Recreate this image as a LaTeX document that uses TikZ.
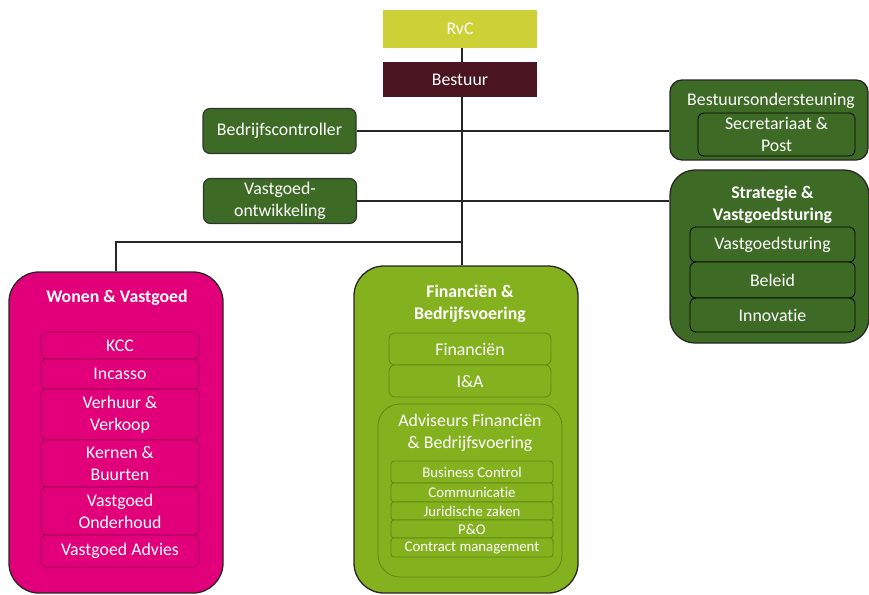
\documentclass[tikz,border=0pt]{standalone}
\usepackage{fontspec}
\setmainfont{Carlito}[Ligatures={NoCommon,NoDiscretionary,NoContextual}, Contextuals=NoAlternate]
\usetikzlibrary{backgrounds}

\definecolor{rvcgreen}{RGB}{204,209,55}
\definecolor{bestuurred}{RGB}{74,21,32}
\definecolor{darkgreen}{RGB}{61,107,37}
\definecolor{pinkred}{RGB}{226,0,122}
\definecolor{pinkline}{RGB}{150,0,80}
\definecolor{lime}{RGB}{132,177,30}
\definecolor{limeline}{RGB}{95,135,20}

\tikzstyle{txt} = [text=white, font=\fontsize{17.8}{22}\selectfont, align=center, inner sep=0pt]
\tikzstyle{head} = [txt, font=\fontsize{17.8}{22}\selectfont\bfseries]
\tikzstyle{board} = [txt, rectangle, minimum width=154pt]
\tikzstyle{staff} = [txt, rectangle, rounded corners=7pt, fill=darkgreen, draw=black!80, line width=1.2pt, minimum width=153pt, minimum height=45pt]
\tikzstyle{dept} = [rectangle, draw=black!85, line width=1.3pt]
\tikzstyle{unit} = [txt, rectangle, rounded corners=6pt, line width=0.8pt]
\tikzstyle{woonunit} = [unit, fill=pinkred, draw=pinkline, minimum width=158pt]
\tikzstyle{finunit} = [unit, fill=lime, draw=limeline, minimum width=162pt]
\tikzstyle{advunit} = [finunit, font=\fontsize{14.8}{18}\selectfont, rounded corners=3pt]
\tikzstyle{stratunit} = [unit, fill=darkgreen, draw=black, minimum width=165pt]
\tikzstyle{link} = [draw=black!85, line width=1.2pt]

\begin{document}
\begin{tikzpicture}[x=1pt, y=-1pt]
\useasboundingbox (0,0) rectangle (869,594);

% top
\node[board, fill=rvcgreen, minimum height=38pt] (rvc) at (460,29) {RvC};
\node[board, fill=bestuurred, minimum height=35pt] (bestuur) at (460,79.5) {Bestuur};

% staff
\node[staff] (bc) at (279.5,131) {Bedrijfscontroller};
\node[staff] (vo) at (280,201) {Vastgoed-\\ontwikkeling};

% right side
\node[dept, fill=darkgreen, rounded corners=12pt, minimum width=198pt, minimum height=80pt] (bo) at (769,120) {};
\node[txt] (botitle) at (771,101) {Bestuursondersteuning};
\node[unit, fill=darkgreen, draw=black, minimum width=157pt, minimum height=43pt] (sp) at (776.5,134.5) {Secretariaat \&\\Post};

\node[dept, fill=darkgreen, rounded corners=25pt, minimum width=199pt, minimum height=173pt] (sv) at (769.5,256.5) {};
\node[head] (svtitle) at (772.5,204.5) {Strategie \&\\Vastgoedsturing};
\node[stratunit, minimum height=35pt] (vs) at (772.5,244.5) {Vastgoedsturing};
\node[stratunit, minimum height=36pt] (beleid) at (772.5,280) {Beleid};
\node[stratunit, minimum height=34pt] (innov) at (772.5,315) {Innovatie};

% wonen
\node[dept, fill=pinkred, rounded corners=30pt, minimum width=214pt, minimum height=321pt] (wonen) at (116,432.5) {};
\node[head] (wtitle) at (117,298) {Wonen \& Vastgoed};
\node[woonunit, minimum height=27pt] (kcc) at (120,345.5) {KCC};
\node[woonunit, minimum height=30pt] (incasso) at (120,374) {Incasso};
\node[woonunit, minimum height=51pt] (verhuur) at (120,414.5) {Verhuur \&\\Verkoop};
\node[woonunit, minimum height=47pt] (kernen) at (120,463.5) {Kernen \&\\Buurten};
\node[woonunit, minimum height=48pt] (onderhoud) at (120,511) {Vastgoed\\Onderhoud};
\node[woonunit, minimum height=32pt] (advies) at (120,551) {Vastgoed Advies};

% financien
\node[dept, fill=lime, rounded corners=30pt, minimum width=224pt, minimum height=327pt] (fin) at (466,429.5) {};
\node[head] (ftitle) at (470,303.5) {Financi\"en \&\\Bedrijfsvoering};
\node[finunit, minimum height=32pt] (financien) at (470,349) {Financi\"en};
\node[finunit, minimum height=32pt] (ia) at (470,381) {I\&A};
\node[rectangle, fill=lime, draw=limeline, line width=0.8pt, rounded corners=22pt, minimum width=184pt, minimum height=173pt] (adv) at (470,490.5) {};
\node[txt] (advtitle) at (470,433) {Adviseurs Financi\"en\\\& Bedrijfsvoering};
\node[advunit, minimum height=22pt] (bcontrol) at (472,472) {Business Control};
\node[advunit, minimum height=19pt] (comm) at (472,492.5) {Communicatie};
\node[advunit, minimum height=18pt] (jur) at (472,511) {Juridische zaken};
\node[advunit, minimum height=18pt] (po) at (472,529) {P\&O};
\node[advunit, minimum height=19pt] (cm) at (472,547.5) {Contract management};

% lines
\coordinate (split) at (462,242);
\begin{scope}[on background layer]
\draw[link] (rvc.south -| split) -- (fin.north -| split);
\draw[link] (split) -| (wonen.north);
\draw[link] (bc.east) -- (bc.east -| bo.west);
\draw[link] (vo.east) -- (vo.east -| sv.west);
\end{scope}
\end{tikzpicture}
\end{document}
